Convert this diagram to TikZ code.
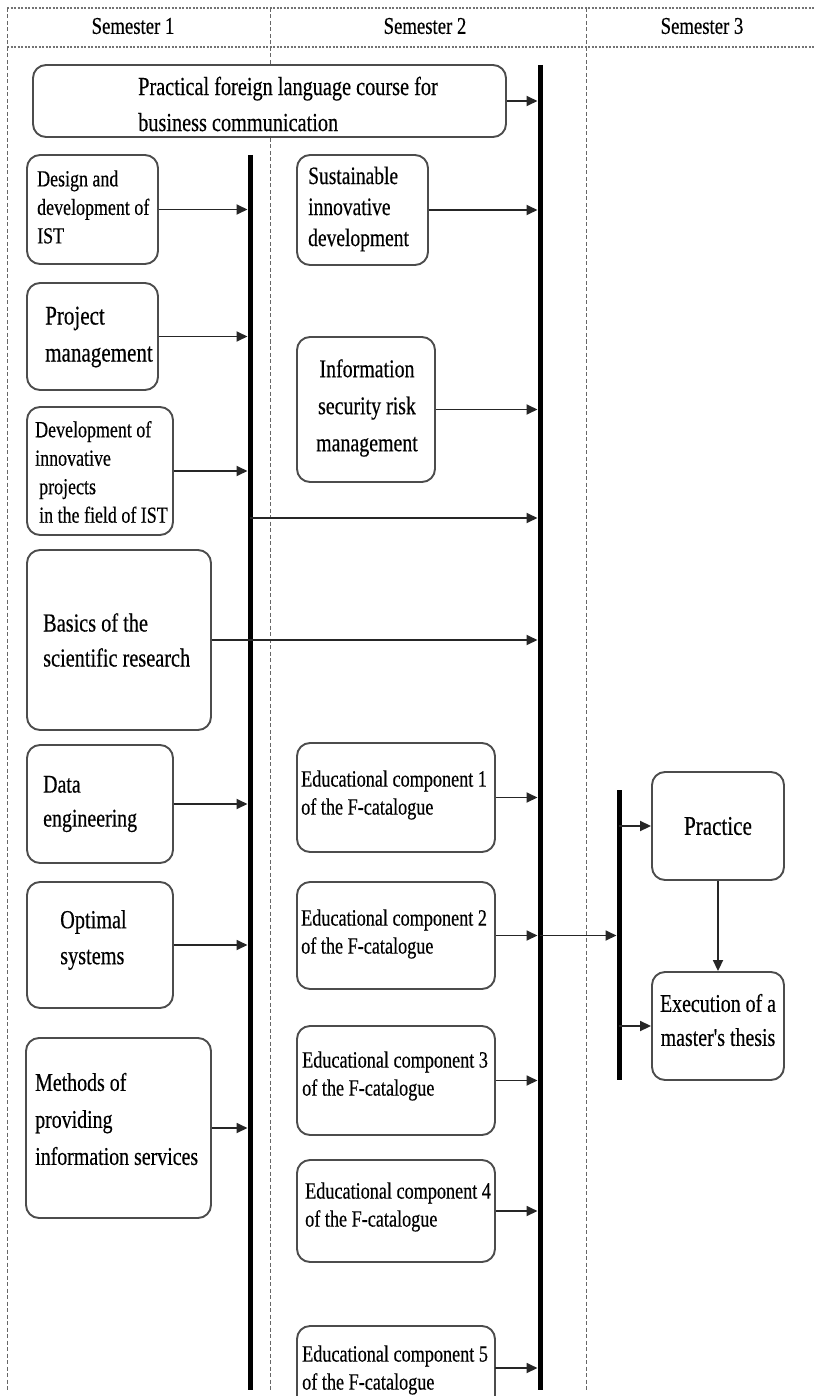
\documentclass[tikz,border=0pt]{standalone}
\usepackage{fontspec}
\setmainfont{Liberation Serif}[FakeStretch=0.78, FakeBold=0.4, Ligatures=TeXOff]
\usetikzlibrary{arrows.meta}
\tikzset{
 box/.style={draw=black!70, fill=white, line width=1.9pt, rounded corners=13pt, inner sep=0pt},
 lbl/.style={inner sep=0pt, align=left, text=black},
 arr/.style={line width=1.8pt, draw=black!85, -{Triangle[length=11pt,width=10pt]}},
 tobar/.style={arr, shorten >=2.5pt},
 bar/.style={line width=5pt, draw=black},
 vsep/.style={line width=1pt, draw=black!60, dash pattern=on 4pt off 2.5pt},
 hsep/.style={line width=1.6pt, draw=black!55, dash pattern=on 2pt off 1.5pt},
}
\newcommand{\fs}[2]{\fontsize{#1}{#2}\selectfont}
\newcommand{\mkbox}[5]{\node[box, minimum width={(#4-#2)*1pt}, minimum height={(#5-#3)*1pt}] (#1) at ({(#2+#4)/2},{(#3+#5)/2}) {};}
\begin{document}
\begin{tikzpicture}[x=1pt,y=-1pt]
\useasboundingbox (0,0) rectangle (815,1396);
% header
\coordinate (hl) at (7,8); \coordinate (hr) at (815,8);
\coordinate (bl) at (7,47); \coordinate (br) at (815,47);
\draw[hsep] (hl) -- (hr);
\draw[hsep] (bl) -- (br);
\coordinate (v0t) at (7,8); \coordinate (v0b) at (7,1392);
\coordinate (v1t) at (270,8); \coordinate (v1b) at (270,1390);
\coordinate (v2t) at (586,8); \coordinate (v2b) at (586,1390);
\draw[vsep] (v0t) -- (v0b);
\draw[vsep] (v1t) -- (v1b);
\draw[vsep] (v2t) -- (v2b);
\node[lbl, font=\fs{24}{26}] (s1) at (133,26) {Semester 1};
\node[lbl, font=\fs{24}{26}] (s2) at (425,26) {Semester 2};
\node[lbl, font=\fs{24}{26}] (s3) at (702,26) {Semester 3};
% bars
\coordinate (b1t) at (250,155); \coordinate (b1b) at (250,1390);
\coordinate (b2t) at (540,65);  \coordinate (b2b) at (540,1390);
\coordinate (b3t) at (619,790); \coordinate (b3b) at (619,1080);
\draw[bar] (b1t) -- (b1b);
\draw[bar] (b2t) -- (b2b);
\draw[bar] (b3t) -- (b3b);
% boxes
\mkbox{prac}{33}{65}{506}{137}
\node[lbl, anchor=west, font=\fs{26}{36}] (prac-t) at (138,104) {Practical foreign language course for\\business communication};
\mkbox{design}{27}{155}{158}{264}
\node[lbl, anchor=west, font=\fs{23}{28.5}] (design-t) at (37,207) {Design and\\development of\\IST};
\mkbox{proj}{27}{283}{158}{390}
\node[lbl, anchor=west, font=\fs{27}{37}] (proj-t) at (45,337) {Project\\management};
\mkbox{dev}{27}{407}{173}{535}
\node[lbl, anchor=west, font=\fs{23}{28.5}] (dev-t) at (35,472) {Development of\\innovative\\\hspace*{4pt}projects\\\hspace*{4pt}in the field of IST};
\mkbox{basic}{27}{550}{211}{730}
\node[lbl, anchor=west, font=\fs{26}{35}] (basic-t) at (43,640) {Basics of the\\scientific research};
\mkbox{data}{27}{745}{173}{863}
\node[lbl, anchor=west, font=\fs{25.5}{34}] (data-t) at (43,804) {Data\\engineering};
\mkbox{opt}{27}{882}{173}{1008}
\node[lbl, anchor=west, font=\fs{26}{36}] (opt-t) at (60,940) {Optimal\\systems};
\mkbox{meth}{26}{1038}{211}{1218}
\node[lbl, anchor=west, font=\fs{25.5}{37}] (meth-t) at (35,1119) {Methods of\\providing\\information services};
\mkbox{sust}{297}{155}{428}{265}
\node[lbl, anchor=west, font=\fs{25}{31}] (sust-t) at (308,209) {Sustainable\\innovative\\development};
\mkbox{info}{297}{337}{435}{482}
\node[lbl, align=center, font=\fs{25.5}{37}] (info-t) at (367,408) {Information\\security risk\\management};
\mkbox{ec1}{297}{743}{495}{852}
\node[lbl, anchor=west, font=\fs{23.3}{28}] (ec1-t) at (301,795) {Educational component 1\\of the F-catalogue};
\mkbox{ec2}{297}{882}{495}{989}
\node[lbl, anchor=west, font=\fs{23.3}{28}] (ec2-t) at (301,934) {Educational component 2\\of the F-catalogue};
\mkbox{ec3}{297}{1026}{495}{1135}
\node[lbl, anchor=west, font=\fs{23.3}{28}] (ec3-t) at (302,1076) {Educational component 3\\of the F-catalogue};
\mkbox{ec4}{297}{1160}{495}{1262}
\node[lbl, anchor=west, font=\fs{23.3}{28}] (ec4-t) at (305,1207) {Educational component 4\\of the F-catalogue};
\mkbox{ec5}{297}{1326}{495}{1410}
\node[lbl, anchor=west, font=\fs{23.3}{28}] (ec5-t) at (302,1370) {Educational component 5\\of the F-catalogue};
\mkbox{pract}{652}{772}{784}{880}
\node[lbl, font=\fs{27}{30}] (pract-t) at (718,826) {Practice};
\mkbox{exec}{652}{972}{784}{1080}
\node[lbl, align=center, font=\fs{25.5}{34}] (exec-t) at (718,1020) {Execution of a\\master's thesis};
% connectors to bar 1
\draw[tobar] (design.east) -- (design.east -| b1t);
\draw[tobar] (proj.east) -- (proj.east -| b1t);
\draw[tobar] (dev.east) -- (dev.east -| b1t);
\draw[tobar] (data.east) -- (data.east -| b1t);
\draw[tobar] (opt.east) -- (opt.east -| b1t);
\draw[tobar] (meth.east) -- (meth.east -| b1t);
% connectors to bar 2
\draw[tobar] (prac.east) -- (prac.east -| b2t);
\coordinate (j1) at (250,518);
\draw[tobar] (j1) -- (j1 -| b2t);
\draw[tobar] (basic.east) -- (basic.east -| b2t);
\draw[tobar] (sust.east) -- (sust.east -| b2t);
\draw[tobar] (info.east) -- (info.east -| b2t);
\draw[tobar] (ec1.east) -- (ec1.east -| b2t);
\draw[tobar] (ec2.east) -- (ec2.east -| b2t);
\draw[tobar] (ec3.east) -- (ec3.east -| b2t);
\draw[tobar] (ec4.east) -- (ec4.east -| b2t);
\coordinate (e5) at (495,1368);
\draw[tobar] (e5) -- (e5 -| b2t);
% bar 2 to bar 3
\coordinate (j2) at (540,935.5);
\draw[tobar] (j2) -- (j2 -| b3t);
% bar 3 to semester 3 boxes
\draw[arr] (pract.west -| b3t) -- (pract.west);
\draw[arr] (exec.west -| b3t) -- (exec.west);
\draw[arr] (pract.south) -- (exec.north);
\end{tikzpicture}
\end{document}
